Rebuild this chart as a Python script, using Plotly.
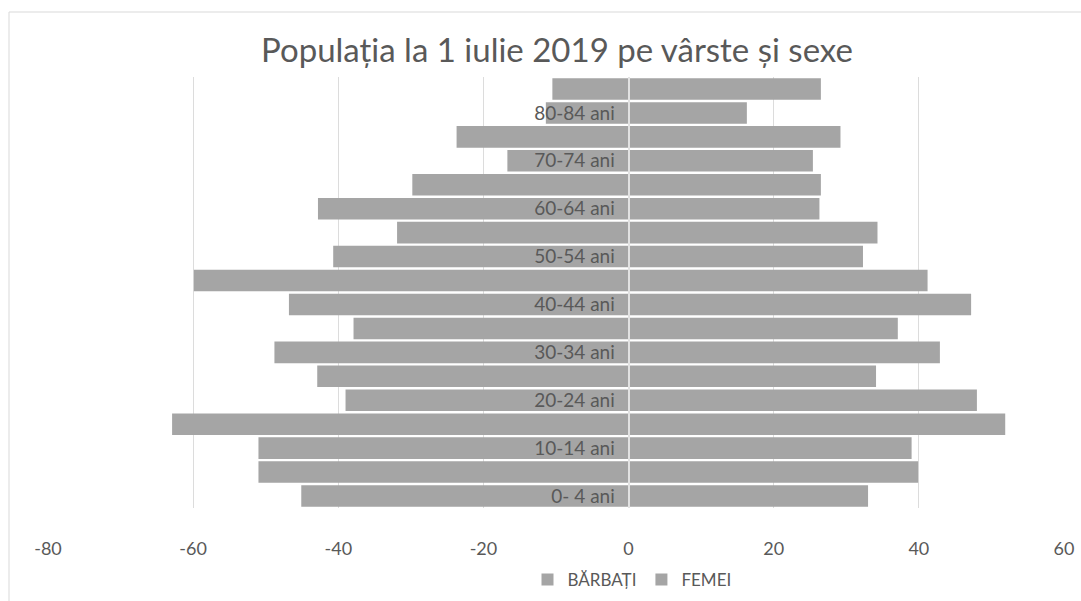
import plotly.graph_objects as go

categories = ["0- 4 ani", "5-9 ani", "10-14 ani", "15-19 ani", "20-24 ani", "25-29 ani",
              "30-34 ani", "35-39 ani", "40-44 ani", "45-49 ani", "50-54 ani", "55-59 ani",
              "60-64 ani", "65-69 ani", "70-74 ani", "75-79 ani", "80-84 ani", "85 ani și peste"]
barbati = [-45.1, -51.0, -51.0, -62.9, -39.0, -42.9, -48.8, -37.9, -46.8, -59.9,
           -40.7, -31.9, -42.8, -29.8, -16.7, -23.7, -11.4, -10.5]
femei = [33.0, 39.9, 39.0, 51.9, 48.0, 34.1, 42.9, 37.1, 47.2, 41.2,
         32.3, 34.3, 26.3, 26.5, 25.4, 29.2, 16.3, 26.5]
shown_labels = categories[0:17:2]
x_ticks = [-80, -60, -40, -20, 0, 20, 40, 60]

W, H = 1081, 601
ml, mt = 48, 77
mr = W - 1064
mb = H - 508
pw = W - ml - mr
ph = H - mt - mb

def px_x(px):
    return (px - ml) / pw

def px_y(py):
    return (H - mb - py) / ph

bar_color = "#a5a5a5"
fig = go.Figure()
fig.add_trace(go.Bar(y=categories, x=barbati, orientation="h", name="BĂRBAȚI",
                     marker=dict(color=bar_color, line=dict(width=0))))
fig.add_trace(go.Bar(y=categories, x=femei, orientation="h", name="FEMEI",
                     marker=dict(color=bar_color, line=dict(width=0))))

zero_pos = (0 - (-80)) / (60 - (-80))

fig.update_layout(
    width=W, height=H,
    margin=dict(l=ml, r=mr, t=mt, b=mb, autoexpand=False),
    paper_bgcolor="white", plot_bgcolor="white",
    barmode="relative", bargap=0.1,
    font=dict(family="Lato, Open Sans, sans-serif", color="#595959"),
    title=dict(text="Populația la 1 iulie 2019 pe vârste și sexe",
               x=557 / W, xanchor="center", y=1 - 50 / H, yanchor="middle",
               font=dict(size=33, color="#595959", family="Lato, Open Sans, sans-serif")),
    xaxis=dict(range=[-80, 60], tickvals=x_ticks, ticktext=[str(v) for v in x_ticks],
               showgrid=True, gridcolor="#dcdcdc", gridwidth=1, zeroline=False,
               showline=False, ticks="", ticklabelstandoff=28,
               tickfont=dict(size=18, color="#595959"), fixedrange=True),
    yaxis=dict(type="category", categoryorder="array", categoryarray=categories,
               tickvals=shown_labels, ticktext=shown_labels,
               anchor="free", position=zero_pos, side="left",
               showgrid=False, zeroline=False, showline=True, linecolor="#e2e2e2", linewidth=2,
               ticks="", ticklabelstandoff=9,
               tickfont=dict(size=19, color="#595959"), fixedrange=True),
    legend=dict(orientation="h", x=px_x(632), xanchor="center", y=px_y(580), yanchor="middle",
                font=dict(size=17, color="#595959"), itemwidth=30, traceorder="normal"),
    showlegend=True,
    shapes=[
        dict(type="line", xref="paper", yref="paper", x0=px_x(9), x1=px_x(1081), y0=px_y(12), y1=px_y(12),
             line=dict(color="#d9d9d9", width=1)),
        dict(type="line", xref="paper", yref="paper", x0=px_x(9), x1=px_x(9), y0=px_y(12), y1=px_y(601),
             line=dict(color="#d9d9d9", width=1)),
    ],
)

fig.write_html("out.html", config={"displayModeBar": False},
               post_script="document.body.style.margin='0px';document.body.style.overflow='hidden';")
